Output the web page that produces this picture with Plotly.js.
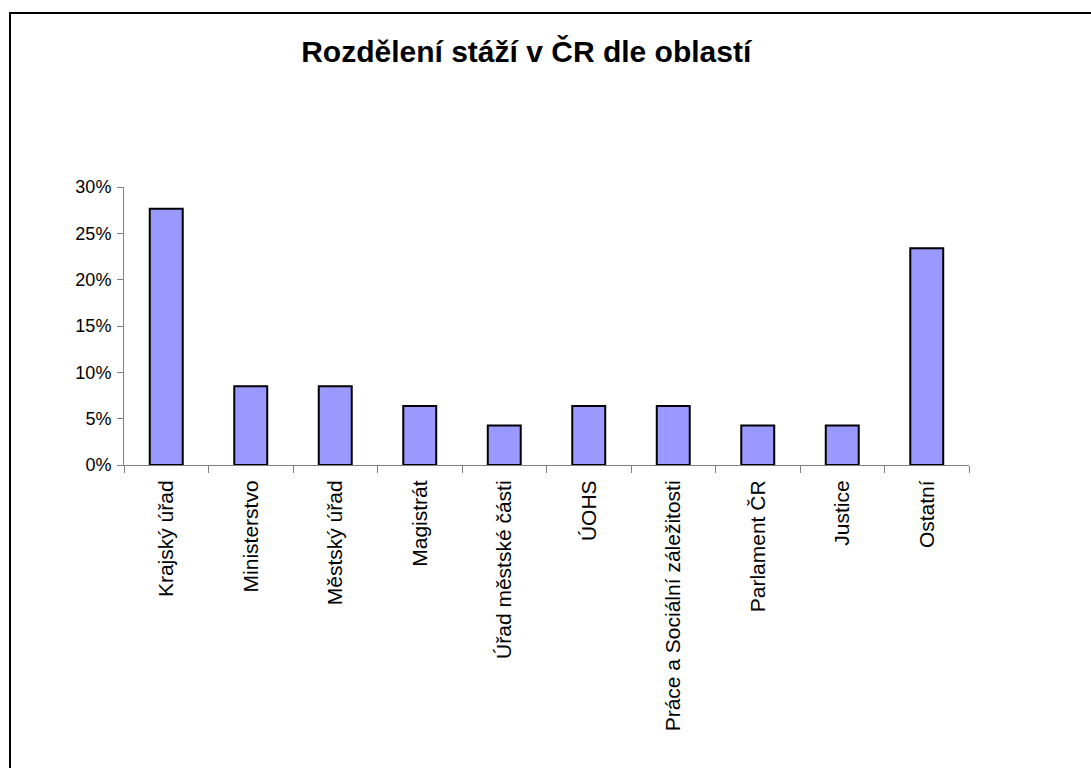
<!DOCTYPE html>
<html>
<head>
<meta charset="utf-8">
<script src="https://cdn.plot.ly/plotly-3.0.1.min.js"></script>
<style>
html,body{margin:0;padding:0;background:#fff;overflow:hidden;}
#frame{position:absolute;left:9px;top:12px;width:1200px;height:900px;border:2px solid #000;box-sizing:border-box;border-right:none;border-bottom:none;}
#chart{position:absolute;left:0;top:0;width:1091px;height:768px;}
</style>
</head>
<body>
<div id="frame"></div>
<div id="chart"></div>
<script>
const categories = ["Krajský úřad","Ministerstvo","Městský úřad","Magistrát","Úřad městské části","ÚOHS","Práce a Sociální záležitosti","Parlament ČR","Justice","Ostatní"];
const shares = [0.2766,0.0851,0.0851,0.0638,0.0426,0.0638,0.0638,0.0426,0.0426,0.2340];
const yTickVals = [0,0.05,0.10,0.15,0.20,0.25,0.30];
const yTickText = ["0%","5%","10%","15%","20%","25%","30%"];

const trace = {
  type: "bar",
  x: categories,
  y: shares,
  marker: {color: "#9999FF", line: {color: "#000", width: 2}},
  hoverinfo: "x+y"
};
const layout = {
  width: 1091, height: 768,
  paper_bgcolor: "rgba(0,0,0,0)",
  plot_bgcolor: "rgba(0,0,0,0)",
  margin: {l: 124, r: 122, t: 187, b: 303},
  bargap: 0.61,
  showlegend: false,
  font: {family: "Liberation Sans, Arial, sans-serif", color: "#000", size: 18},
  title: {
    text: "<b>Rozdělení stáží v ČR dle oblastí</b>",
    font: {family: "Liberation Sans, Arial, sans-serif", size: 30, color: "#000"},
    x: 0.476, xref: "paper", xanchor: "center",
    y: 0.933, yref: "container", yanchor: "middle"
  },
  xaxis: {
    type: "category",
    tickson: "boundaries",
    ticks: "outside", ticklen: 7, tickcolor: "#808080", tickwidth: 1,
    showline: true, linecolor: "#808080", linewidth: 1,
    showgrid: false, zeroline: false,
    tickangle: -90,
    ticklabelstandoff: 6,
    tickfont: {size: 21, color: "#000"}
  },
  yaxis: {
    range: [0, 0.30],
    tickvals: yTickVals, ticktext: yTickText,
    ticks: "outside", ticklen: 6, tickcolor: "#808080", tickwidth: 1,
    showline: true, linecolor: "#808080", linewidth: 1,
    showgrid: false, zeroline: false,
    ticklabelstandoff: 2,
    tickfont: {size: 18, color: "#000"}
  }
};
Plotly.newPlot("chart", [trace], layout, {displayModeBar: false, staticPlot: true});
</script>
</body>
</html>
